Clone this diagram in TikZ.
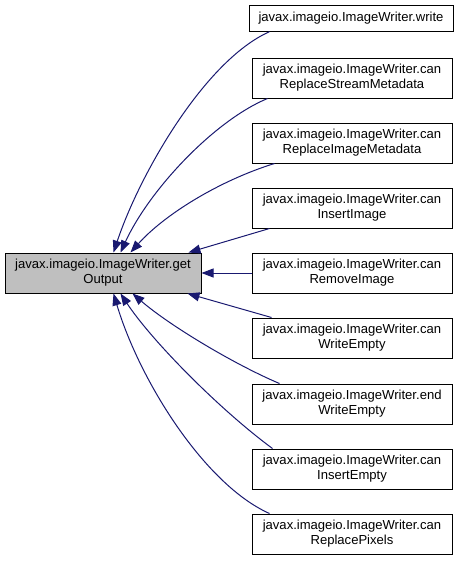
\documentclass[tikz,border=0pt]{standalone}
\usepackage{fontspec}
\setmainfont{Liberation Sans}
\usepackage{xcolor}
\usetikzlibrary{arrows.meta,calc}

\definecolor{edgeblue}{HTML}{191970}
\definecolor{callergray}{HTML}{BFBFBF}

\begin{document}
\begin{tikzpicture}[x=0.75pt, y=-0.75pt,
  every node/.style={draw=black,line width=0.75pt,inner sep=2pt,align=center,
    font=\fontsize{9.8}{11.3}\selectfont},
  callee/.style={minimum width=150pt,minimum height=30pt},
  edge/.style={draw=edgeblue,line width=0.75pt,-{Triangle[length=9pt,width=6.75pt]}}]
\useasboundingbox (0,0) rectangle (460,561);
\node[fill=callergray,minimum width=147pt,minimum height=30pt] (get) at (103,273)
  {javax.imageio.ImageWriter.get\\Output};
\node[minimum width=153pt,minimum height=19pt] (write) at (351,18.5) {javax.imageio.ImageWriter.write};
\node[callee] (stream) at (352,78) {javax.imageio.ImageWriter.can\\ReplaceStreamMetadata};
\node[callee] (imgmeta) at (352,143) {javax.imageio.ImageWriter.can\\ReplaceImageMetadata};
\node[callee] (insimg) at (352,208) {javax.imageio.ImageWriter.can\\InsertImage};
\node[callee] (remimg) at (352,273) {javax.imageio.ImageWriter.can\\RemoveImage};
\node[callee] (wempty) at (352,338) {javax.imageio.ImageWriter.can\\WriteEmpty};
\node[callee] (endwempty) at (352,404) {javax.imageio.ImageWriter.end\\WriteEmpty};
\node[callee] (insempty) at (352,469) {javax.imageio.ImageWriter.can\\InsertEmpty};
\node[callee] (pixels) at (352,534) {javax.imageio.ImageWriter.can\\ReplacePixels};
% callers above the middle
\draw[edge] ($(write.south west)+(21,0)$) .. controls +(-65,29) and +(26,-78) .. ($(get.north west)+(109,0)$);
\draw[edge] ($(stream.south west)+(16,0)$) .. controls +(-53,22) and +(29,-63) .. ($(get.north west)+(116,0)$);
\draw[edge] ($(imgmeta.south west)+(23,0)$) .. controls +(-55,17) and +(34,-38) .. ($(get.north west)+(126,0)$);
\draw[edge] ($(insimg.south west)+(18,0)$) -- ($(get.north west)+(184,0)$);
\draw[edge] (remimg.west) -- (get.east);
% callers below the middle
\draw[edge] ($(wempty.north west)+(20,0)$) -- ($(get.south west)+(183,0)$);
\draw[edge] ($(endwempty.north west)+(28,0)$) .. controls +(-45,-19) and +(37,32) .. ($(get.south west)+(128,0)$);
\draw[edge] ($(insempty.north west)+(21,0)$) .. controls +(-53,-39) and +(31,47) .. ($(get.south west)+(116,0)$);
\draw[edge] ($(pixels.north west)+(18,0)$) .. controls +(-65,-29) and +(26,87) .. ($(get.south west)+(109,0)$);
\end{tikzpicture}
\end{document}
